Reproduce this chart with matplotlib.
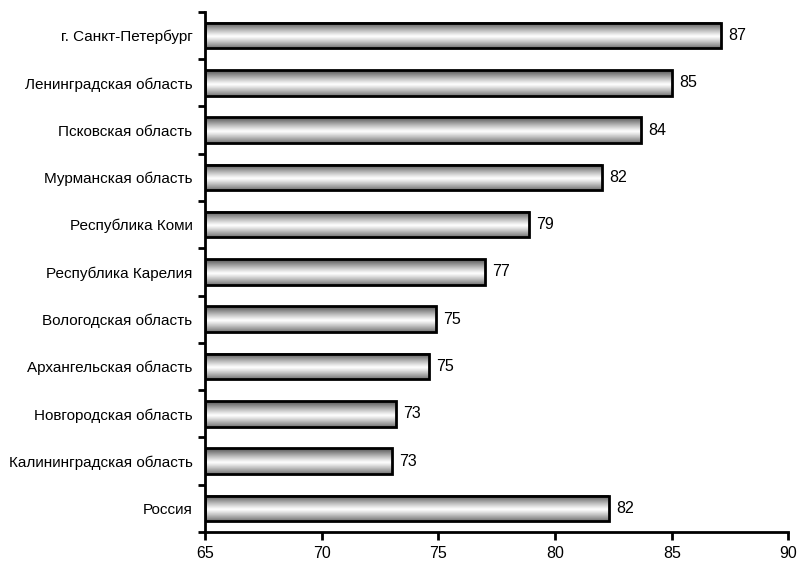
import numpy as np
import matplotlib.pyplot as plt
from matplotlib.ticker import FixedLocator

plt.rcParams['font.family'] = ['Liberation Sans', 'DejaVu Sans']

# регионы снизу вверх
regions = [
    "Россия",
    "Калининградская область",
    "Новгородская область",
    "Архангельская область",
    "Вологодская область",
    "Республика Карелия",
    "Республика Коми",
    "Мурманская область",
    "Псковская область",
    "Ленинградская область",
    "г. Санкт-Петербург",
]
values = [82.3, 73.0, 73.2, 74.6, 74.9, 77.0, 78.9, 82.0, 83.7, 85.0, 87.1]

x_min, x_max = 65, 90
bar_h = 0.54

fig = plt.figure(figsize=(7.98, 5.66), dpi=100)
ax = fig.add_axes([0.257, 0.060, 0.731, 0.919])

# вертикальный градиент: тёмные края, светлая середина
t = np.linspace(0, 1, 64)
shade = 1 - 0.68 * np.abs(t - 0.55) ** 1.1 / 0.55 ** 1.1
shade = np.clip(shade, 0.28, 1.0)
grad = np.repeat(shade[:, None], 2, axis=1)

y = np.arange(len(regions))
for yi, v in zip(y, values):
    ax.imshow(grad, cmap='gray', vmin=0, vmax=1, aspect='auto',
              extent=(x_min, v, yi - bar_h / 2, yi + bar_h / 2),
              interpolation='bilinear', zorder=2)
    ax.text(v + 0.3, yi, f"{v:.0f}", va='center', ha='left', fontsize=11.5)

ax.barh(y, [v - x_min for v in values], left=x_min, height=bar_h,
        facecolor='none', edgecolor='black', linewidth=2, zorder=3)

ax.set_xlim(x_min, x_max)
ax.set_ylim(-0.5, len(regions) - 0.5)
ax.set_xticks(np.arange(65, 91, 5))
ax.set_yticks(y)
ax.set_yticklabels(regions, fontsize=11)
ax.yaxis.set_minor_locator(FixedLocator(np.arange(-0.5, len(regions), 1.0)))
ax.tick_params(axis='y', which='major', length=0, pad=9)
ax.tick_params(axis='y', which='minor', length=5, width=2)
ax.tick_params(axis='x', length=6, width=2, labelsize=11.5, pad=4)

for s in ['top', 'right']:
    ax.spines[s].set_visible(False)
for s in ['left', 'bottom']:
    ax.spines[s].set_linewidth(2)

fig.savefig('out.png', dpi=100)
